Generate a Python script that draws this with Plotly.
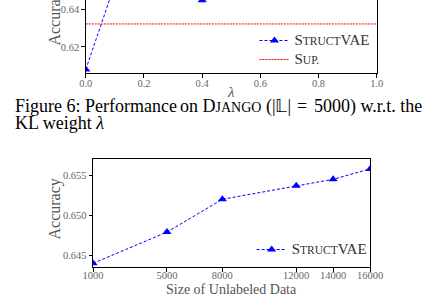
import plotly.graph_objects as go

# ---- data ----
lam = [0.0, 0.1, 0.2, 0.3, 0.4, 0.5, 0.6, 0.7, 0.8, 0.9, 1.0]
acc_lam = [0.608, 0.6536, 0.655, 0.653, 0.645, 0.652, 0.651, 0.652, 0.650, 0.651, 0.650]
sup_acc = 0.6323
lam_ticks = [0.0, 0.2, 0.4, 0.6, 0.8, 1.0]
lam_ticktext = ["0.0", "0.2", "0.4", "0.6", "0.8", "1.0"]
acc_lam_ticks = [0.62, 0.64]

unlab = [1000, 5000, 8000, 12000, 14000, 16000]
unlab_ticktext = ["1000", "5000", "8000", "12000", "14000", "16000"]
acc_unlab = [0.6440, 0.6479, 0.6520, 0.6537, 0.6545, 0.6558]
acc_unlab_ticks = [0.645, 0.650, 0.655]
acc_unlab_ticktext = ["0.645", "0.650", "0.655"]

W, H = 439, 298
def px(x): return x / W
def py(y): return 1 - y / H

SERIF = "Liberation Serif"
BLUE = "#0000ff"
RED = "#ff0000"

def sc(first, small, rest="", big=15):
    # small caps: legend base font is the small size, big letters via span
    return (f"<span style='font-size:{big}px'>{first}</span>{small}"
            + (f"<span style='font-size:{big}px'>{rest}</span>" if rest else ""))

fig = go.Figure()
fig.add_trace(go.Scatter(
    x=lam, y=acc_lam, mode="lines+markers", name=sc("S", "TRUCT", "VAE"),
    line=dict(color=BLUE, width=1, dash="3px,2px"),
    marker=dict(symbol="triangle-up", size=8, color=BLUE),
    xaxis="x", yaxis="y", legend="legend"))
fig.add_trace(go.Scatter(
    x=[0, 1], y=[sup_acc, sup_acc], mode="lines", name=sc("S", "UP."),
    line=dict(color=RED, width=1, dash="2px,1px"),
    xaxis="x", yaxis="y", legend="legend"))
fig.add_trace(go.Scatter(
    x=unlab, y=acc_unlab, mode="lines+markers", name=sc("S", "TRUCT", "VAE"),
    line=dict(color=BLUE, width=1, dash="3px,2px"),
    marker=dict(symbol="triangle-up", size=8, color=BLUE),
    xaxis="x2", yaxis="y2", legend="legend2"))

axis_common = dict(showline=True, linecolor="black", linewidth=1, ticks="outside",
                   ticklen=3.5, tickcolor="black", tickwidth=1, showgrid=False,
                   zeroline=False, tickfont=dict(family=SERIF, size=10.5, color="#666"))

fig.update_layout(
    width=W, height=H, margin=dict(l=0, r=0, t=0, b=0),
    paper_bgcolor="white", plot_bgcolor="white",
    font=dict(family=SERIF),
    xaxis=dict(domain=[px(80), px(387)], range=[0, 1], tickvals=lam_ticks,
               ticktext=lam_ticktext, anchor="y", ticklabelstandoff=-3, **axis_common),
    yaxis=dict(domain=[py(73), 1], range=[0.6061, 0.6451], tickvals=acc_lam_ticks,
               mirror=True, anchor="x", **axis_common),
    xaxis2=dict(domain=[px(87.7), px(380)], range=[1000, 16000], tickvals=unlab,
                ticktext=unlab_ticktext, mirror=True, anchor="y2",
                ticklabelstandoff=-5, **axis_common),
    yaxis2=dict(domain=[py(267.3), py(159.3)], range=[0.6435, 0.657],
                tickvals=acc_unlab_ticks, ticktext=acc_unlab_ticktext,
                mirror=True, anchor="x2", **axis_common),
    legend=dict(x=px(258), y=py(26), xanchor="left", yanchor="top",
                bgcolor="rgba(0,0,0,0)", itemwidth=30, tracegroupgap=0,
                font=dict(family=SERIF, size=11.5, color="#333")),
    legend2=dict(x=px(255), y=py(235), xanchor="left", yanchor="top",
                 bgcolor="rgba(0,0,0,0)", itemwidth=30,
                 font=dict(family=SERIF, size=11.5, color="#333")),
    showlegend=True,
)

def ann(text, x, y, xanchor="left", size=18.5, color="black", angle=0):
    fig.add_annotation(text=text, x=px(x), y=py(y), xref="paper", yref="paper",
                       xanchor=xanchor, yanchor="middle", showarrow=False,
                       textangle=angle, font=dict(family=SERIF, size=size, color=color))

# axis titles
ann("Accuracy", 47, 15, "center", size=16, color="#555", angle=-90)
ann("<i>λ</i>", 233.5, 92, "center", size=15, color="#555")
ann("Accuracy", 48, 209, "center", size=16, color="#555", angle=-90)
ann("Size of Unlabeled Data", 234, 289, "center", size=14, color="#555")

# caption
ann("Figure 6: Performance", 3, 106, size=18)
ann("on D<span style='font-size:14px'>JANGO</span> (|𝕃|", 177, 106, size=18)
ann("=", 308, 106, "center", size=18)
ann("5000) w.r.t. the", 437, 106, "right", size=18)
ann("KL weight <i>λ</i>", 3, 123, size=18)

fig.write_html("out.html")
